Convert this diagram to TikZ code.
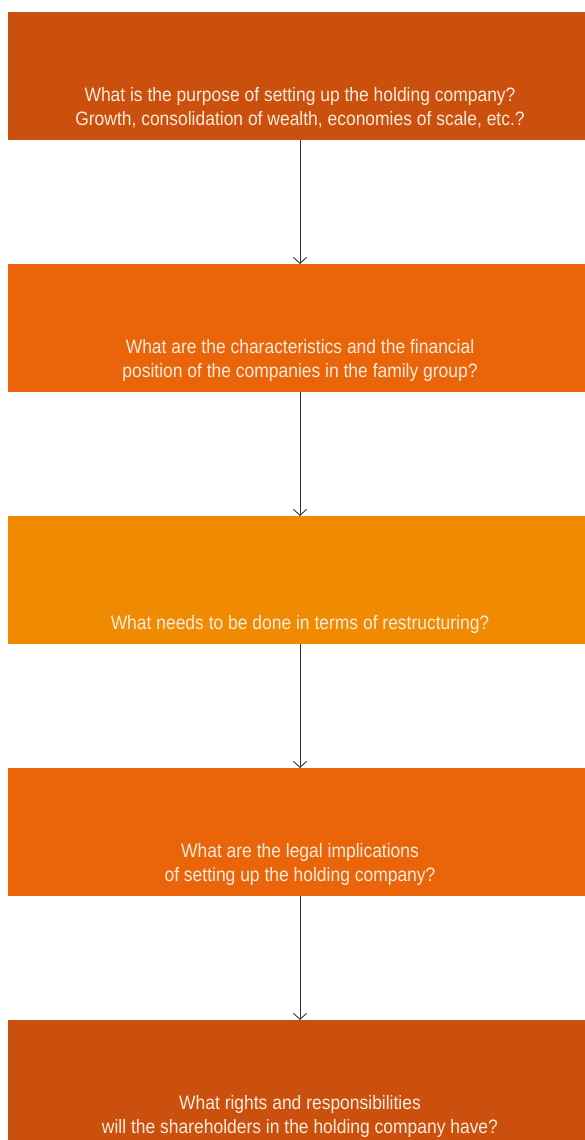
\documentclass[tikz,border=0pt]{standalone}
\usepackage{fontspec}
\setmainfont{Liberation Sans}[FakeStretch=0.9]
\usetikzlibrary{arrows.meta}
\definecolor{cdark}{RGB}{203,80,13}
\definecolor{cmid}{RGB}{234,101,10}
\definecolor{clight}{RGB}{240,138,0}
\definecolor{ctext}{RGB}{253,236,222}
\definecolor{carrow}{RGB}{50,50,50}
\tikzset{
  box/.style={draw=none, minimum width=584pt, minimum height=128pt, inner sep=0pt, anchor=north west},
  qtext/.style={text=ctext, font=\fontsize{19.4}{24}\selectfont, align=center, anchor=base, inner sep=0pt},
  flow/.style={draw=carrow, line width=0.9pt, -{Straight Barb[length=6pt,width=13pt,line width=0.9pt]}}
}
\begin{document}
\begin{tikzpicture}[x=1pt,y=-1pt]
\useasboundingbox (0,0) rectangle (585,1140);
\node[box, fill=cdark]  (b1) at (8,12)   {};
\node[box, fill=cmid]   (b2) at (8,264)  {};
\node[box, fill=clight] (b3) at (8,516)  {};
\node[box, fill=cmid]   (b4) at (8,768)  {};
\node[box, fill=cdark]  (b5) at (8,1020) {};
\node[qtext] (t1) at (300,125.5) {What is the purpose of setting up the holding company?\\Growth, consolidation of wealth, economies of scale, etc.?};
\node[qtext] (t2) at (300,377.5) {What are the characteristics and the financial\\position of the companies in the family group?};
\node[qtext] (t3) at (300,629) {What needs to be done in terms of restructuring?};
\node[qtext] (t4) at (300,881) {What are the legal implications\\of setting up the holding company?};
\node[qtext] (t5) at (300,1133) {What rights and responsibilities\\will the shareholders in the holding company have?};
\coordinate (a1) at (300,140);
\coordinate (a2) at (300,392);
\coordinate (a3) at (300,644);
\coordinate (a4) at (300,896);
\draw[flow] (a1) -- (a1 |- b2.north);
\draw[flow] (a2) -- (a2 |- b3.north);
\draw[flow] (a3) -- (a3 |- b4.north);
\draw[flow] (a4) -- (a4 |- b5.north);
\end{tikzpicture}
\end{document}
